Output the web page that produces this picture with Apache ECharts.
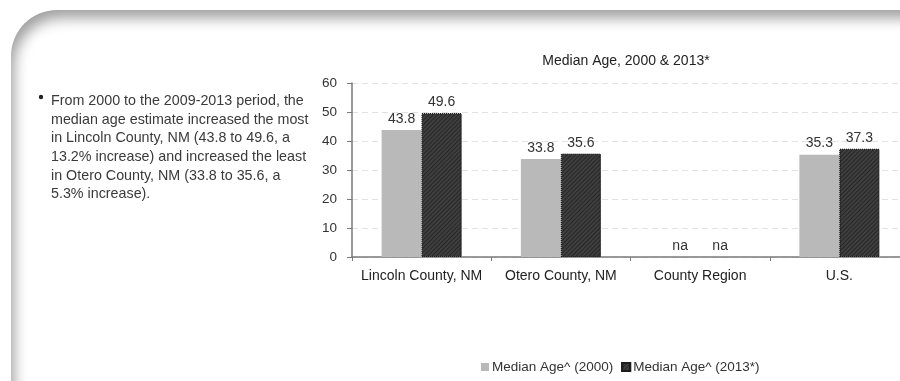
<!DOCTYPE html>
<html>
<head>
<meta charset="utf-8">
<script src="https://cdn.jsdelivr.net/npm/echarts@6/dist/echarts.min.js"></script>
<style>
  html, body { margin: 0; padding: 0; background: #fff; overflow: hidden; }
  #wrap { position: relative; width: 900px; height: 381px; overflow: hidden; background: #fff; }
  /* rounded panel with a soft inner shadow along its top and left edges */
  #panel {
    position: absolute; left: 11px; top: 10px; width: 960px; height: 440px;
    border-radius: 46px 0 0 0; background: #fff;
    box-shadow: inset 5px 10px 14px -2px rgba(0,0,0,0.38);
  }
  /* the plot runs past the right edge, so the canvas is wider than the view */
  #chart { position: absolute; left: 0; top: 0; width: 960px; height: 381px; }
</style>
</head>
<body>
<div id="wrap">
  <div id="panel"></div>
  <div id="chart"></div>
</div>
<script>
const categories = ['Lincoln County, NM', 'Otero County, NM', 'County Region', 'U.S.'];
const age2000 = [43.8, 33.8, null, 35.3];
const age2013 = [49.6, 35.6, null, 37.3];
const seriesNames = ['Median Age^ (2000)', 'Median Age^ (2013*)'];
const yTicks = { min: 0, max: 60, interval: 10 };
const noteLines = [
  'From 2000 to the 2009-2013 period, the',
  'median age estimate increased the most',
  'in Lincoln County, NM (43.8 to 49.6, a',
  '13.2% increase) and increased the least',
  'in Otero County, NM (33.8 to 35.6, a',
  '5.3% increase).'
];

const FONT = '"Liberation Sans", Arial, sans-serif';

// missing values are shown as "na" resting on the baseline
function toData(arr) {
  return arr.map(v => v == null
    ? { value: 0, label: { formatter: 'na' }, itemStyle: { borderWidth: 0 } }
    : v);
}

const chart = echarts.init(document.getElementById('chart'), null, { renderer: 'canvas' });

chart.setOption({
  backgroundColor: 'transparent',
  animation: false,
  textStyle: { fontFamily: FONT },
  title: {
    text: 'Median Age, 2000 & 2013*',
    left: 621, top: 49, textAlign: 'center',
    textStyle: { fontFamily: FONT, fontSize: 14, fontWeight: 'normal', color: '#222' }
  },
  legend: {
    data: seriesNames,
    left: 476, top: 355,
    itemWidth: 8, itemHeight: 8, itemGap: 8,
    icon: 'rect',
    textStyle: { fontFamily: FONT, fontSize: 13.5, color: '#333', padding: [0, 0, 0, -2] }
  },
  grid: { left: 352, top: 83, width: 557, height: 174, containLabel: false },
  xAxis: {
    type: 'category',
    data: categories,
    axisLine: { lineStyle: { color: '#7a7a7a', width: 1.5 } },
    axisTick: { show: true, length: 4, lineStyle: { color: '#7a7a7a' } },
    axisLabel: { interval: 0, fontFamily: FONT, fontSize: 14, color: '#222', margin: 12 }
  },
  yAxis: {
    type: 'value',
    min: yTicks.min, max: yTicks.max, interval: yTicks.interval,
    axisLine: { show: true, lineStyle: { color: '#7a7a7a', width: 1.5 } },
    axisTick: { show: true, length: 5, lineStyle: { color: '#7a7a7a' } },
    axisLabel: { fontFamily: FONT, fontSize: 13.5, color: '#333', margin: 15 },
    splitLine: { show: true, lineStyle: { color: '#e2e2e2', type: [6, 4] } }
  },
  series: [
    {
      name: seriesNames[0], type: 'bar',
      data: toData(age2000),
      barWidth: 40, barGap: '0%',
      itemStyle: { color: '#b9b9b9' },
      label: { show: true, position: 'top', distance: 4, fontFamily: FONT, fontSize: 14, color: '#333' }
    },
    {
      name: seriesNames[1], type: 'bar',
      data: toData(age2013),
      barWidth: 40, barGap: '0%',
      itemStyle: {
        color: '#3e3e3e', borderColor: '#1c1c1c', borderWidth: 1, borderType: 'dotted',
        decal: {
          symbol: 'rect', symbolSize: 1,
          dashArrayX: [1, 0], dashArrayY: [1, 2],
          rotation: -Math.PI / 4, color: 'rgba(20,20,20,0.55)'
        }
      },
      label: { show: true, position: 'top', distance: 4, fontFamily: FONT, fontSize: 14, color: '#333' }
    }
  ],
  graphic: [
    {
      type: 'circle', shape: { cx: 41, cy: 97, r: 2.2 },
      style: { fill: '#222' }, silent: true
    },
    {
      type: 'text', left: 51, top: 92, silent: true,
      style: {
        text: noteLines.join('\n'),
        font: '14.3px ' + FONT, lineHeight: 18.6, fill: '#3a3a3a'
      }
    }
  ]
});
</script>
</body>
</html>
